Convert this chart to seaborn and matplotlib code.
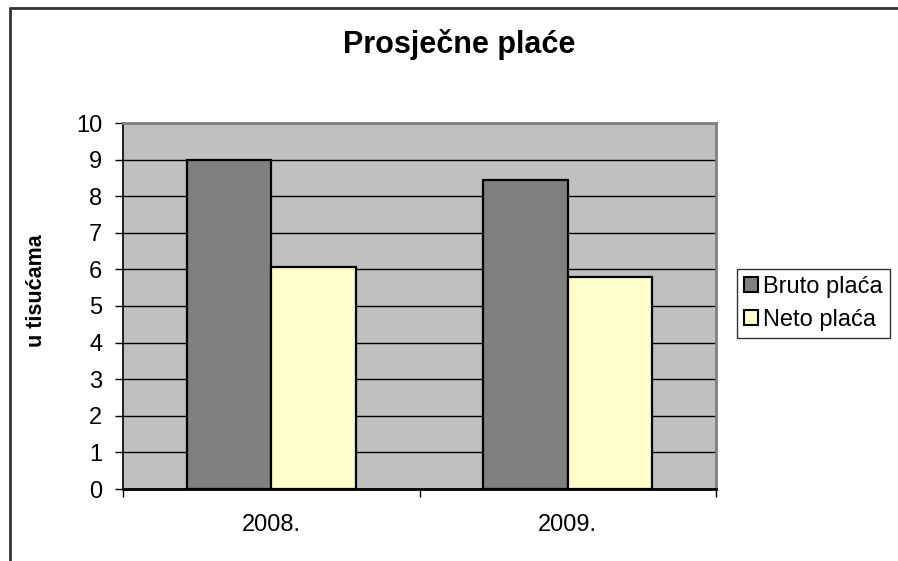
import matplotlib
matplotlib.use("Agg")
import matplotlib.pyplot as plt
from matplotlib.lines import Line2D
import seaborn as sns
import pandas as pd

years = ["2008.", "2009."]
series_names = ["Bruto plaća", "Neto plaća"]
bruto = [8.98, 8.44]
neto = [6.06, 5.79]
y_ticks = list(range(0, 11))

df = pd.DataFrame({
    "godina": years * 2,
    "vrsta": [series_names[0]] * 2 + [series_names[1]] * 2,
    "vrijednost": bruto + neto,
})

sns.set_theme(style="white")
plt.rcParams["font.family"] = ["Liberation Sans", "DejaVu Sans"]
plt.rcParams["text.color"] = "black"
plt.rcParams["xtick.color"] = "black"
plt.rcParams["ytick.color"] = "black"
plt.rcParams["axes.labelcolor"] = "black"

fig = plt.figure(figsize=(8.98, 5.61), dpi=100)
fig.patch.set_facecolor("white")
ax = fig.add_axes([123/898, 1-489/561, (716-123)/898, (489-123)/561])
ax.set_facecolor("#C0C0C0")

palette = {series_names[0]: "#808080", series_names[1]: "#FFFFCC"}
sns.barplot(data=df, x="godina", y="vrijednost", hue="vrsta", order=years,
            hue_order=series_names, palette=palette, width=0.57, gap=0,
            edgecolor="black", linewidth=1.6, saturation=1, ax=ax, zorder=3)

ax.set_ylim(0, 10)
ax.set_xlim(-0.5, 1.5)
ax.set_yticks(y_ticks)
ax.set_yticklabels([str(t) for t in y_ticks], fontsize=17)
ax.yaxis.grid(True, color="black", linewidth=1.0)
ax.set_axisbelow(True)
ax.set_xlabel("")
ax.set_ylabel("")

ax.set_xticks([0, 1])
ax.set_xticklabels(years, fontsize=17)
ax.set_xticks([-0.5, 0.5, 1.5], minor=True)
ax.tick_params(axis="x", which="major", length=0, pad=18)
ax.tick_params(axis="x", which="minor", length=6, width=1, color="black", direction="out", bottom=True)
ax.tick_params(axis="y", which="major", length=6, width=1, color="black", direction="out", left=True, pad=9)

for side in ["top", "right"]:
    ax.spines[side].set_visible(True)
    ax.spines[side].set_color("#808080")
    ax.spines[side].set_linewidth(2)
ax.spines["left"].set_color("black")
ax.spines["left"].set_linewidth(1.2)
ax.spines["bottom"].set_color("black")
ax.spines["bottom"].set_linewidth(2)

handles, labels = ax.get_legend_handles_labels()
if ax.get_legend() is not None:
    ax.get_legend().remove()
leg = fig.legend(handles, labels, loc="upper left",
                 bbox_to_anchor=(737/898, 1-269/561), fontsize=17,
                 frameon=True, fancybox=False, handlelength=0.6, handleheight=0.6,
                 handletextpad=0.2, borderpad=0.3, labelspacing=0.45,
                 borderaxespad=0)
leg.get_frame().set_edgecolor("black")
leg.get_frame().set_linewidth(1.0)
for h in leg.legend_handles:
    h.set_edgecolor("black")
    h.set_linewidth(1.5)

fig.text(459/898, 1-45/561, "Prosječne plaće", fontsize=22, fontweight="bold",
         ha="center", va="center")
fig.text(37/898, 1-291/561, "u tisućama", fontsize=15.5, fontweight="bold",
         ha="center", va="center", rotation=90)

# chart frame (partially visible)
fig.add_artist(Line2D([10/898, 10/898], [0, 1-8/561], transform=fig.transFigure,
                      color="#333333", linewidth=2))
fig.add_artist(Line2D([10/898, 1], [1-8/561, 1-8/561], transform=fig.transFigure,
                      color="#333333", linewidth=2))

fig.savefig("out.png", dpi=100)
